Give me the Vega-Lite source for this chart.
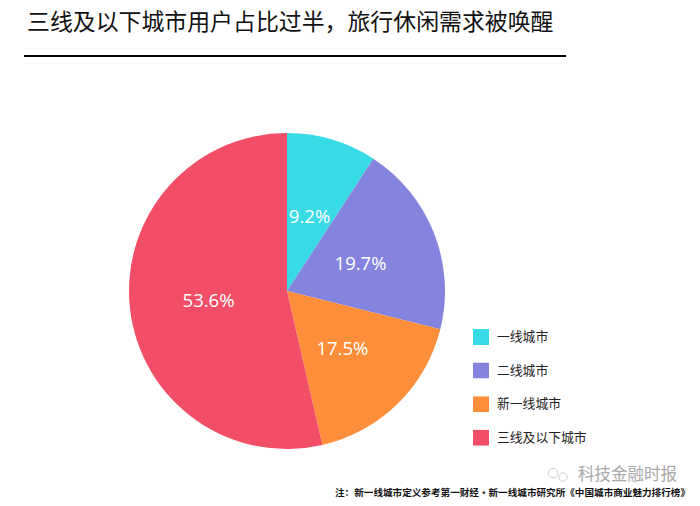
{
"$schema":"https://vega.github.io/schema/vega-lite/v6.json",
"width":316,"height":316,
"autosize":"none",
"padding":{"left":129,"top":133,"right":255,"bottom":57},
"background":"white",
"title":{"text":"三线及以下城市用户占比过半，旅行休闲需求被唤醒","anchor":"start","frame":"group","dx":-102,"dy":-20,"offset":0,"font":"Noto Sans CJK SC","fontSize":22.9,"fontWeight":"normal","color":"#111111"},
"data":{"values":[
{"city":"一线城市","share":9.2,"rank":1,"label":"9.2%"},
{"city":"二线城市","share":19.7,"rank":2,"label":"19.7%"},
{"city":"新一线城市","share":17.5,"rank":3,"label":"17.5%"},
{"city":"三线及以下城市","share":53.6,"rank":4,"label":"53.6%"}
]},
"layer":[
{"mark":{"type":"arc","outerRadius":158},
"encoding":{
"theta":{"field":"share","type":"quantitative","stack":true},
"order":{"field":"rank","type":"quantitative"},
"color":{"field":"city","type":"nominal","sort":["一线城市","二线城市","新一线城市","三线及以下城市"],
"scale":{"domain":["一线城市","二线城市","新一线城市","三线及以下城市"],"range":["#38DBE5","#8484DE","#FE8E3A","#F24E68"]},
"legend":{"title":null,"orient":"none","legendX":344,"legendY":196,"symbolType":"square","symbolSize":256,"symbolStrokeWidth":0,"labelFont":"Noto Sans CJK SC","labelFontSize":12.8,"labelColor":"#222222","rowPadding":17.6,"labelOffset":8,"clipHeight":16}}
}},
{"mark":{"type":"text","radius":79,"dy":1.5,"font":"Open Sans","fontSize":18.5,"color":"white"},
"encoding":{
"theta":{"field":"share","type":"quantitative","stack":true},
"order":{"field":"rank","type":"quantitative"},
"text":{"field":"label","type":"nominal"}
}},
{"data":{"values":[{"note":"注：新一线城市定义参考第一财经·新一线城市研究所《中国城市商业魅力排行榜》"}]},
"mark":{"type":"text","align":"right","baseline":"middle","x":561,"y":360,"font":"Noto Sans CJK SC","fontSize":9.6,"fontWeight":"bold","color":"#111111"},
"encoding":{"text":{"field":"note","type":"nominal"}}},
{"data":{"values":[{"mark":"科技金融时报"}]},
"mark":{"type":"text","align":"right","baseline":"middle","x":548,"y":342,"font":"Noto Sans CJK SC","fontSize":16.5,"color":"#a8a8a8"},
"encoding":{"text":{"field":"mark","type":"nominal"}}},
{"data":{"values":[{"logo":"大"}]},
"mark":{"type":"point","shape":"circle","size":90,"filled":false,"strokeWidth":1,"color":"#bdbdbd"},
"encoding":{"x":{"value":424},"y":{"value":340}}},
{"data":{"values":[{"logo":"小"}]},
"mark":{"type":"point","shape":"circle","size":70,"filled":false,"strokeWidth":1,"color":"#bdbdbd"},
"encoding":{"x":{"value":434},"y":{"value":344}}},
{"data":{"values":[{"rule":"title"}]},
"mark":{"type":"rule","strokeWidth":2,"color":"#000000"},
"encoding":{"x":{"value":-105},"x2":{"value":437},"y":{"value":-77}}}
],
"config":{"view":{"stroke":null}}
}
